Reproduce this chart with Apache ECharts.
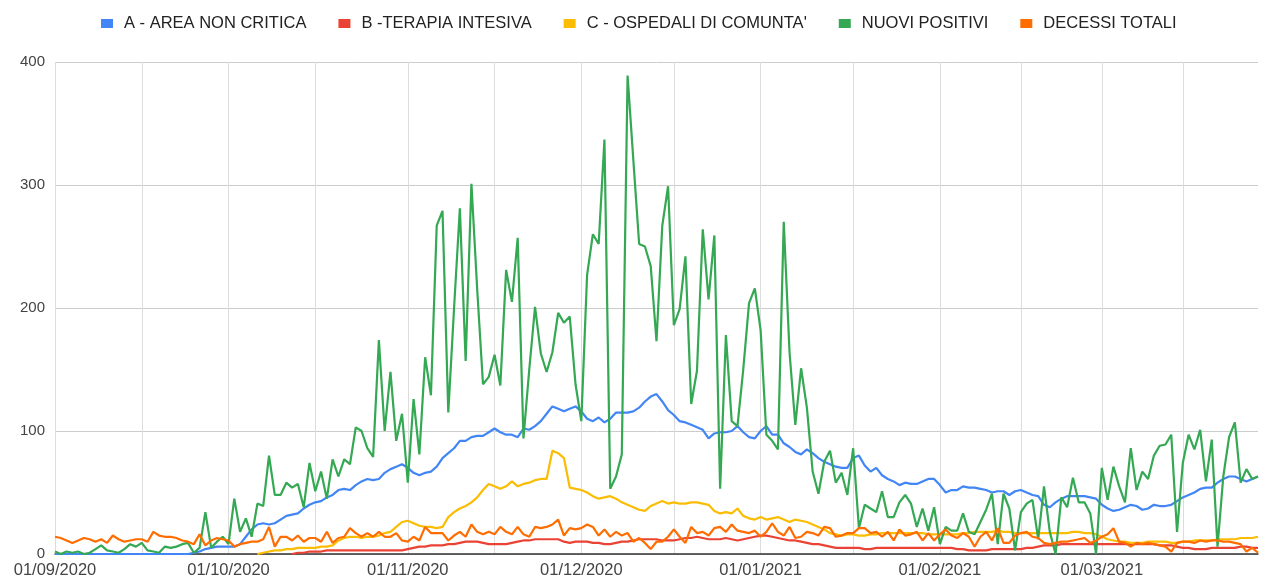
<!DOCTYPE html>
<html>
<head>
<meta charset="utf-8">
<script src="https://cdn.jsdelivr.net/npm/echarts@6/dist/echarts.min.js"></script>
<style>
  html, body { margin: 0; padding: 0; background: #fff; }
  #chart { width: 1261px; height: 583px; }
</style>
</head>
<body>
<div id="chart"></div>
<script>
// daily values, 01/09/2020 .. 28/03/2021
const startDate = '2020-09-01';
const dayCount = 209;

const seriesNames = ['A - AREA NON CRITICA', 'B -TERAPIA INTESIVA', "C - OSPEDALI DI COMUNTA'", 'NUOVI POSITIVI', 'DECESSI TOTALI'];
const seriesColors = ['#4285F4', '#EA4335', '#FBBC04', '#34A853', '#FF6D01'];

// mid-month minor gridlines (dd/mm)
const minorGridDays = ['16/09', '16/10', '16/11', '17/12', '17/01', '15/02', '15/03'];

const areaNonCritica = [
    0, 0, 0, 0, 0, 0, 0, 0, 0, 0, 0, 0, 0, 0, 0, 0, 0, 0, 0, 0, 0, 0, 0, 0, 1, 2, 4, 5, 6, 6,
    6, 6, 8, 14, 20, 24, 25, 24, 25, 28, 31, 32, 33, 37, 40, 42, 43, 46, 48, 52, 53, 52, 56, 59, 61, 60, 61, 66, 69, 71,
    73, 70, 66, 64, 66, 67, 71, 78, 82, 86, 92, 92, 95, 96, 96, 99, 102, 99, 97, 97, 95, 102, 101, 104, 108, 114, 120, 118, 116, 118,
    120, 116, 110, 108, 111, 107, 110, 115, 115, 115, 116, 119, 124, 128, 130, 124, 117, 113, 108, 107, 105, 103, 101, 94, 98, 99, 99, 100, 104, 99,
    95, 94, 100, 104, 97, 97, 90, 87, 83, 81, 85, 82, 78, 75, 73, 71, 70, 70, 78, 80, 72, 67, 70, 64, 61, 59, 56, 58, 57, 57,
    59, 61, 61, 56, 50, 52, 52, 55, 54, 54, 53, 52, 50, 51, 51, 48, 51, 52, 50, 48, 47, 40, 38, 42, 45, 47, 47, 47, 47, 46,
    45, 40, 37, 35, 36, 38, 40, 39, 36, 37, 40, 39, 39, 40, 43, 46, 48, 50, 53, 54, 54, 58, 61, 63, 63, 61, 59, 61, 63
];

const terapiaIntensiva = [
    null, null, null, null, null, null, null, null, null, null, null, null, null, null, null, null, null, null, null, null, null, null, null, null, null, null, null, null, null, null,
    null, null, null, null, null, null, null, null, null, null, null, 0, 1, 1, 2, 2, 2, 3, 3, 3, 3, 3, 3, 3, 3, 3, 3, 3, 3, 3,
    3, 4, 5, 6, 6, 7, 7, 7, 8, 8, 9, 10, 10, 10, 9, 8, 8, 8, 8, 9, 10, 11, 11, 12, 12, 12, 12, 12, 10, 9,
    10, 10, 10, 9, 9, 8, 8, 9, 10, 10, 11, 12, 12, 12, 12, 11, 11, 11, 12, 13, 13, 14, 13, 12, 12, 12, 13, 12, 11, 12,
    13, 14, 15, 15, 14, 13, 12, 11, 11, 10, 9, 8, 8, 7, 6, 5, 5, 5, 5, 5, 4, 4, 5, 5, 5, 5, 5, 5, 5, 5,
    5, 5, 5, 5, 5, 5, 4, 4, 3, 3, 3, 3, 4, 4, 4, 4, 4, 4, 5, 5, 6, 7, 7, 7, 8, 8, 8, 8, 8, 8,
    8, 8, 8, 8, 8, 8, 8, 8, 8, 8, 8, 7, 7, 7, 6, 5, 5, 4, 4, 4, 5, 5, 5, 5, 5, 6, 6, 5, 5
];

const ospedaliComunita = [
    null, null, null, null, null, null, null, null, null, null, null, null, null, null, null, null, null, null, null, null, null, null, null, null, null, null, null, null, null, null,
    null, null, null, null, null, 0, 1, 2, 3, 3, 4, 4, 5, 5, 5, 5, 6, 6, 7, 11, 13, 14, 14, 13, 14, 14, 15, 17, 18, 22,
    26, 27, 25, 23, 22, 22, 21, 22, 30, 34, 37, 39, 42, 46, 52, 57, 55, 53, 55, 59, 55, 57, 58, 60, 61, 61, 84, 82, 78, 54,
    53, 52, 50, 47, 45, 46, 47, 45, 42, 40, 38, 36, 35, 39, 41, 43, 41, 42, 41, 41, 42, 42, 41, 40, 35, 33, 34, 33, 37, 31,
    29, 28, 30, 28, 29, 30, 28, 26, 28, 27, 26, 24, 22, 20, 17, 16, 15, 16, 16, 15, 15, 16, 16, 17, 17, 17, 17, 17, 17, 17,
    17, 16, 16, 16, 16, 16, 16, 17, 17, 18, 18, 18, 18, 19, 18, 18, 17, 17, 17, 17, 17, 17, 17, 17, 17, 17, 18, 18, 17, 17,
    16, 14, 12, 11, 10, 10, 9, 9, 9, 10, 10, 10, 10, 9, 9, 10, 10, 11, 11, 11, 11, 12, 12, 12, 12, 13, 13, 13, 14
];

const nuoviPositivi = [
    2, 0, 2, 1, 2, 0, 1, 4, 7, 3, 2, 1, 4, 8, 6, 9, 3, 2, 1, 6, 5, 6, 8, 9, 1, 5, 34, 5, 10, 14,
    8, 45, 18, 29, 14, 41, 39, 80, 48, 48, 58, 54, 57, 38, 74, 51, 67, 45, 77, 63, 77, 73, 103, 100, 86, 79, 174, 100, 148, 92,
    114, 58, 126, 81, 160, 129, 267, 279, 115, 200, 281, 157, 301, 215, 138, 144, 162, 137, 231, 205, 257, 94, 150, 201, 163, 148, 164, 196, 188, 193,
    138, 108, 227, 260, 252, 337, 53, 63, 81, 389, 320, 252, 250, 234, 173, 267, 299, 186, 199, 242, 122, 149, 264, 207, 259, 53, 178, 108, 104, 150,
    204, 216, 182, 97, 92, 85, 270, 164, 105, 151, 119, 67, 49, 75, 84, 58, 66, 48, 86, 21, 40, 37, 34, 51, 30, 30, 42, 48, 41, 22,
    37, 19, 38, 8, 22, 19, 19, 33, 18, 16, 26, 36, 49, 8, 49, 37, 3, 34, 41, 44, 12, 55, 18, 0, 46, 38, 62, 42, 42, 33,
    0, 70, 44, 71, 55, 42, 86, 52, 67, 61, 80, 88, 89, 97, 18, 74, 97, 85, 101, 59, 93, 6, 63, 95, 107, 58, 69, 61, 63
];

const decessiTotali = [
    14, 13, 11, 9, 11, 13, 12, 10, 12, 9, 15, 12, 10, 11, 12, 12, 10, 18, 15, 14, 14, 13, 11, 10, 8, 16, 7, 11, 13, 12,
    11, 6, 8, 9, 10, 10, 12, 22, 6, 14, 14, 11, 15, 10, 13, 13, 10, 18, 9, 13, 14, 21, 17, 14, 17, 14, 18, 14, 14, 17,
    11, 10, 14, 11, 22, 17, 17, 17, 11, 15, 18, 14, 24, 18, 16, 18, 16, 22, 18, 16, 22, 16, 14, 22, 21, 22, 24, 28, 15, 21,
    20, 21, 24, 22, 15, 20, 14, 18, 15, 17, 10, 13, 9, 4, 10, 10, 14, 20, 14, 9, 22, 17, 18, 15, 21, 22, 18, 24, 19, 18,
    17, 19, 14, 18, 25, 18, 15, 22, 13, 14, 18, 17, 15, 22, 21, 14, 15, 17, 17, 21, 21, 17, 18, 14, 18, 11, 20, 15, 16, 18,
    11, 17, 11, 16, 20, 15, 13, 17, 14, 6, 14, 18, 11, 21, 9, 9, 15, 17, 18, 14, 13, 9, 8, 9, 10, 10, 11, 12, 13, 9,
    11, 14, 16, 21, 10, 9, 6, 9, 8, 9, 8, 7, 6, 2, 9, 10, 10, 9, 11, 10, 11, 11, 10, 10, 9, 8, 2, 5, 1
];

function pad(n) { return n < 10 ? '0' + n : '' + n; }

const dayLabels = [];
(function () {
    const d0 = new Date(startDate + 'T00:00:00Z');
    for (let i = 0; i < dayCount; i++) {
        const d = new Date(d0.getTime() + i * 86400000);
        dayLabels.push(pad(d.getUTCDate()) + '/' + pad(d.getUTCMonth() + 1) + '/' + d.getUTCFullYear());
    }
})();

const chart = echarts.init(document.getElementById('chart'));

const fontFamily = 'Arial, "Liberation Sans", sans-serif';
const allData = [areaNonCritica, terapiaIntensiva, ospedaliComunita, nuoviPositivi, decessiTotali];

chart.setOption({
    animation: false,
    color: seriesColors,
    legend: {
        top: 10,
        left: 96,
        icon: 'rect',
        itemWidth: 12,
        itemHeight: 9,
        itemGap: 32,
        textStyle: { fontFamily: fontFamily, fontSize: 16.5, color: '#222', padding: [0, 0, 0, 6] },
        data: seriesNames
    },
    grid: { left: 55, right: 3, top: 62, bottom: 29 },
    xAxis: {
        type: 'category',
        boundaryGap: false,
        data: dayLabels,
        axisLine: { show: true, lineStyle: { color: '#333', width: 1.5 } },
        axisTick: { show: false },
        axisLabel: {
            interval: (idx, val) => val.startsWith('01/'),
            color: '#444',
            fontFamily: fontFamily,
            fontSize: 16.5,
            margin: 8
        },
        splitLine: {
            show: true,
            interval: (idx, val) => val.startsWith('01/') || minorGridDays.includes(val.slice(0, 5)),
            lineStyle: { color: '#dcdcdc', width: 1 }
        }
    },
    yAxis: {
        type: 'value',
        min: 0,
        max: 400,
        interval: 100,
        axisLine: { show: false },
        axisTick: { show: false },
        axisLabel: { color: '#444', fontFamily: fontFamily, fontSize: 15, margin: 10 },
        splitLine: { lineStyle: { color: '#cccccc', width: 1 } }
    },
    series: seriesNames.map((name, k) => ({
        name: name,
        type: 'line',
        data: allData[k],
        showSymbol: false,
        connectNulls: false,
        lineStyle: { width: 2.2 },
        emphasis: { disabled: true }
    }))
});
</script>
</body>
</html>
